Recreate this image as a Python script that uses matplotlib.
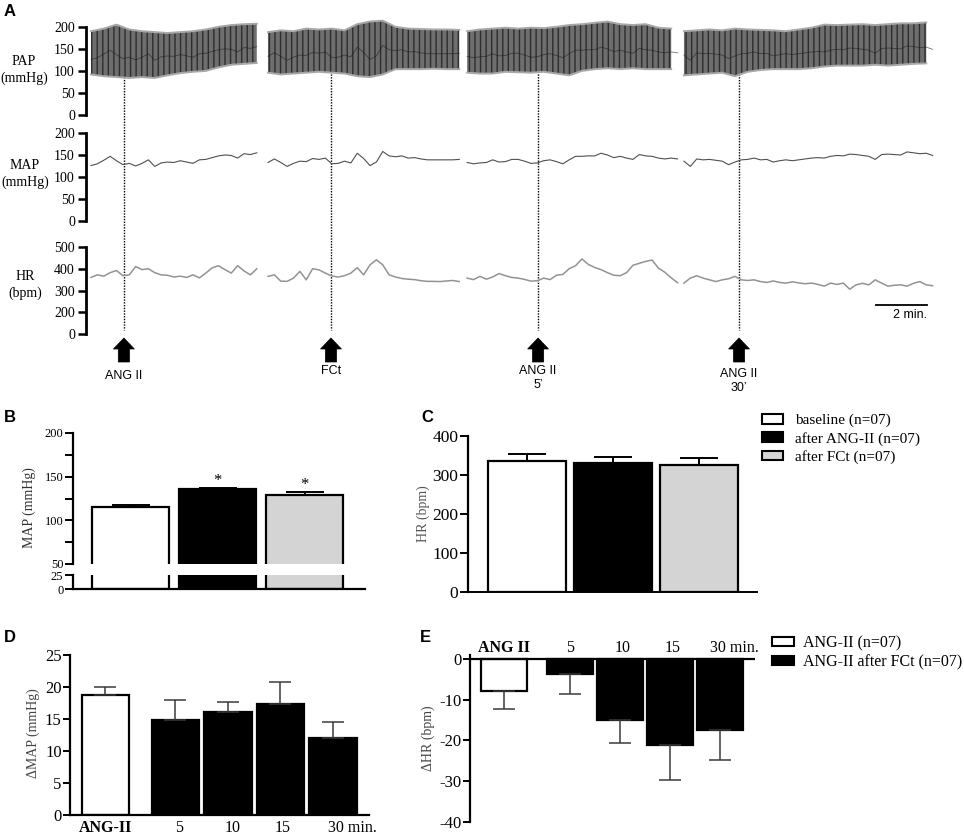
import numpy as np
import matplotlib
matplotlib.use("Agg")
import matplotlib.pyplot as plt
from matplotlib.patches import Polygon, Patch
from matplotlib import transforms

# ---------------- data ----------------
# Panel A: recordings. MAP/HR sampled every 0.25 min, PAP envelope every 0.5 min
seg_start_min = [0.0, 6.94, 14.75, 23.25]
map_dt = 0.25
pap_dt = 0.5

map_seg1 = [126, 130, 138, 147, 137, 128, 131, 125, 131, 139, 124, 132, 134, 133, 137, 134, 131,
            139, 140, 144, 148, 150, 149, 143, 153, 151, 155]
map_seg2 = [133, 141, 133, 124, 131, 136, 135, 142, 140, 143, 130, 131, 136, 132, 154, 142, 126,
            134, 158, 148, 146, 148, 143, 144, 141, 139, 139, 139, 139, 139, 140]
map_seg3 = [133, 130, 132, 133, 139, 134, 135, 140, 140, 136, 131, 132, 137, 139, 135, 130, 139,
            147, 147, 148, 148, 154, 150, 144, 147, 143, 140, 151, 148, 147, 143, 141, 143, 141]
map_seg4 = [136, 124, 141, 139, 140, 138, 136, 128, 134, 139, 140, 143, 139, 140, 134, 137, 139,
            137, 139, 141, 143, 144, 143, 147, 149, 148, 152, 151, 149, 147, 140, 151, 152, 151,
            150, 157, 155, 153, 154, 149]

hr_seg1 = [360, 372, 366, 382, 392, 368, 372, 410, 396, 400, 382, 372, 370, 362, 366, 360, 372,
           358, 380, 404, 414, 396, 380, 414, 390, 372, 400]
hr_seg2 = [365, 372, 343, 342, 357, 388, 349, 400, 395, 380, 367, 362, 368, 380, 405, 372, 418,
           441, 418, 372, 362, 355, 352, 350, 345, 342, 342, 341, 344, 346, 341]
hr_seg3 = [357, 350, 365, 352, 362, 378, 368, 360, 357, 351, 343, 345, 357, 350, 370, 374, 400,
           414, 445, 420, 406, 396, 382, 370, 368, 382, 416, 425, 434, 440, 403, 384, 358, 336]
hr_seg4 = [334, 357, 368, 357, 349, 341, 349, 354, 365, 349, 346, 349, 341, 337, 344, 337, 334,
           340, 335, 331, 334, 328, 320, 334, 328, 334, 306, 326, 333, 326, 349, 334, 320, 324,
           326, 320, 333, 341, 326, 322]

pap_hi_seg1 = [190, 196, 205, 194, 190, 188, 186, 188, 190, 194, 200, 204, 206, 207]
pap_lo_seg1 = [92, 88, 86, 84, 86, 84, 90, 95, 98, 100, 108, 114, 116, 118]
pap_hi_seg2 = [188, 192, 190, 196, 194, 196, 192, 206, 212, 214, 200, 196, 195, 194, 194, 193]
pap_lo_seg2 = [96, 92, 94, 96, 98, 96, 94, 88, 86, 92, 104, 104, 104, 105, 104, 104]
pap_hi_seg3 = [190, 194, 196, 198, 196, 198, 197, 200, 204, 206, 209, 212, 206, 204, 206, 198, 196]
pap_lo_seg3 = [96, 94, 94, 98, 97, 96, 98, 94, 90, 100, 104, 106, 104, 106, 104, 104, 104]
pap_hi_seg4 = [190, 192, 194, 192, 196, 194, 193, 192, 190, 194, 198, 205, 204, 205, 206, 204,
               206, 208, 208, 210]
pap_lo_seg4 = [90, 92, 94, 96, 88, 98, 102, 104, 104, 104, 106, 110, 112, 112, 112, 114, 112,
               114, 116, 117]

event_min = [1.29, 9.41, 17.53, 25.41]
event_labels = ["ANG II", "FCt", "ANG II\n5\u2019", "ANG II\n30\u2019"]
scale_len_min = 2
scale_end_min = 32.78

pap_ticks = [0, 50, 100, 150, 200]
map_ticks = [0, 50, 100, 150, 200]
hr_ticks = [100, 200, 300, 400, 500]
hr_ticklabels = ["0", "200", "300", "400", "500"]

# Panels B / C
groups_bc = ["baseline (n=07)", "after ANG-II (n=07)", "after FCt (n=07)"]
map_mean = [115.3, 135.9, 129.0]
map_sem = [2.6, 1.2, 3.4]
map_sig = [False, True, True]
hr_mean = [337, 330, 325]
hr_sem = [17, 16, 18]

# Panels D / E
d_labels = ["ANG-II", "5", "10", "15", "30 min."]
e_labels = ["ANG II", "5", "10", "15", "30 min."]
dmap_mean = [18.75, 14.8, 16.1, 17.4, 12.1]
dmap_sem = [1.25, 3.2, 1.5, 3.4, 2.4]
dhr_mean = [-7.8, -3.8, -15.0, -21.0, -17.4]
dhr_sem = [4.5, 4.8, 5.6, 8.7, 7.3]
groups_de = ["ANG-II (n=07)", "ANG-II after FCt (n=07)"]

# ---------------- style ----------------
SERIF = ["Liberation Serif", "DejaVu Serif"]
SANS = ["Liberation Sans", "DejaVu Sans"]
plt.rcParams["font.family"] = SERIF
plt.rcParams["axes.unicode_minus"] = False
plt.rcParams["hatch.linewidth"] = 1.0

bc_colors = ["white", "black", "#d4d4d4"]
de_colors = ["white"] + ["black"] * (len(dmap_mean) - 1)

W, H = 964, 836
fig = plt.figure(figsize=(W / 100, H / 100), dpi=100)


def rect(x0, y0, x1, y1):
    return [x0 / W, 1 - y1 / H, (x1 - x0) / W, (y1 - y0) / H]


def fpos(x, y):
    return (x / W, 1 - y / H)


def panel_letter(x, y, s):
    fig.text(x / W, 1 - y / H, s, ha="center", va="center", fontsize=12,
             fontweight="bold", family=SANS)


# ---------------- Panel A ----------------
XL = (-0.196, 33.29)
ov = fig.add_axes(rect(86, 0, 940, 400))
ov.set_xlim(XL)
ov.set_ylim(400, 0)
ov.axis("off")
label_top = [370, 365, 365, 368]
for t, lab, ly in zip(event_min, event_labels, label_top):
    ov.plot([t, t], [60, 330], color="black", lw=1.0, ls=(0, (1, 1)))
    hw, sw = 0.41, 0.22
    ov.add_patch(Polygon([(t, 338), (t + hw, 349), (t + sw, 349), (t + sw, 362),
                          (t - sw, 362), (t - sw, 349), (t - hw, 349)], closed=True,
                         fc="black", ec="black", lw=0.5))
    ov.text(t, ly, lab, ha="center", va="top", fontsize=9, family=SANS, linespacing=1.2)
ov.plot([scale_end_min - scale_len_min, scale_end_min], [305, 305], color="black", lw=1.3)
ov.text(scale_end_min, 309, f"{scale_len_min} min.", ha="right", va="top", fontsize=9,
        family=SANS)


def trace_ax(y0, y1, ylim, ticks, ticklabels):
    ax = fig.add_axes(rect(86, y0, 940, y1))
    ax.set_facecolor("none")
    ax.set_xlim(XL)
    ax.set_ylim(ylim)
    for s in ("top", "right", "bottom"):
        ax.spines[s].set_visible(False)
    ax.spines["left"].set_linewidth(2)
    ax.spines["left"].set_bounds(ticks[0], ticks[-1])
    ax.set_xticks([])
    ax.set_yticks(ticks)
    ax.set_yticklabels(ticklabels)
    ax.tick_params(axis="y", length=6, width=1.8, labelsize=10, pad=2)
    return ax


ax_pap = trace_ax(18, 115, (0, 220), pap_ticks, [str(v) for v in pap_ticks])
ax_map = trace_ax(133, 221, (0, 200), map_ticks, [str(v) for v in map_ticks])
ax_hr = trace_ax(247, 334, (100, 500), hr_ticks, hr_ticklabels)

map_segs = [map_seg1, map_seg2, map_seg3, map_seg4]
hr_segs = [hr_seg1, hr_seg2, hr_seg3, hr_seg4]
pap_hi = [pap_hi_seg1, pap_hi_seg2, pap_hi_seg3, pap_hi_seg4]
pap_lo = [pap_lo_seg1, pap_lo_seg2, pap_lo_seg3, pap_lo_seg4]

for start, mv, hv, hi, lo in zip(seg_start_min, map_segs, hr_segs, pap_hi, pap_lo):
    tp = start + np.arange(len(hi)) * pap_dt
    ax_pap.fill_between(tp, lo, hi, facecolor="#6e6e6e", edgecolor="#2e2e2e",
                        hatch="|||", linewidth=0)
    ax_pap.plot(tp, hi, color="#a8a8a8", lw=1.4)
    ax_pap.plot(tp, lo, color="#a8a8a8", lw=1.4)
    tm = start + np.arange(len(mv)) * map_dt
    ax_pap.plot(tm, mv, color="#1a1a1a", lw=0.6, alpha=0.6)
    ax_map.plot(tm, mv, color="#505050", lw=0.8)
    th = start + np.arange(len(hv)) * map_dt
    ax_hr.plot(th, hv, color="#939393", lw=1.1)

fig.text(24 / W, 1 - 70 / H, "PAP\n(mmHg)", ha="center", va="center", fontsize=10,
         linespacing=1.35)
fig.text(25 / W, 1 - 174 / H, "MAP\n(mmHg)", ha="center", va="center", fontsize=10,
         linespacing=1.35)
fig.text(25 / W, 1 - 285 / H, "HR\n(bpm)", ha="center", va="center", fontsize=10,
         linespacing=1.35)
panel_letter(10, 11, "A")

# ---------------- Panel B ----------------
xb = np.arange(len(map_mean))
axBt = fig.add_axes(rect(73, 433, 365, 564))
axBb = fig.add_axes(rect(73, 575, 365, 589))
for ax in (axBt, axBb):
    ax.bar(xb, map_mean, 0.885, color=bc_colors, edgecolor="black", linewidth=1.6, zorder=2)
    ax.set_xlim(-0.661, 2.695)
    for s in ("top", "right"):
        ax.spines[s].set_visible(False)
    ax.spines["left"].set_linewidth(1.6)
    ax.set_xticks([])
    ax.tick_params(axis="y", length=6, width=1.4, labelsize=9, pad=1)
axBt.set_ylim(50, 200)
axBt.spines["bottom"].set_visible(False)
btick = list(range(50, 201, 25))
axBt.set_yticks(btick)
axBt.set_yticklabels([str(v) if v % 50 == 0 else "" for v in btick])
axBt.errorbar(xb, map_mean, yerr=[np.zeros(len(xb)), map_sem], fmt="none", ecolor="black",
              elinewidth=1.4, capsize=13.5, capthick=1.4, zorder=3)
for x, m, s, sig in zip(xb, map_mean, map_sem, map_sig):
    if sig:
        axBt.annotate("*", (x, m + s), xytext=(0, -1), textcoords="offset points",
                      ha="center", va="bottom", fontsize=12)
axBb.set_ylim(0, 25)
axBb.set_yticks([0, 25])
axBb.spines["bottom"].set_linewidth(1.6)
fig.text(29 / W, 1 - 508 / H, "MAP (mmHg)", rotation=90, ha="center", va="center",
         fontsize=10, color="#333333")
panel_letter(10, 418, "B")

# ---------------- Panel C ----------------
axC = fig.add_axes(rect(468, 436, 757, 592))
axC.bar(xb, hr_mean, 0.904, color=bc_colors, edgecolor="black", linewidth=1.6, zorder=2)
axC.errorbar(xb, hr_mean, yerr=[np.zeros(len(xb)), hr_sem], fmt="none", ecolor="black",
             elinewidth=1.4, capsize=13.7, capthick=1.4, zorder=1)
axC.set_xlim(-0.684, 2.667)
axC.set_ylim(0, 400)
for s in ("top", "right"):
    axC.spines[s].set_visible(False)
axC.spines["left"].set_linewidth(1.6)
axC.spines["bottom"].set_linewidth(1.4)
axC.set_xticks([])
axC.set_yticks(range(0, 401, 100))
axC.tick_params(axis="y", length=6, width=1.4, labelsize=12.5, pad=1)
fig.text(423 / W, 1 - 514 / H, "HR (bpm)", rotation=90, ha="center", va="center",
         fontsize=10, color="#555555")
panel_letter(427, 418, "C")
fig.legend([Patch(facecolor=c, edgecolor="black", linewidth=1.5) for c in bc_colors],
           groups_bc, loc="upper left", bbox_to_anchor=fpos(762, 414), frameon=False,
           fontsize=11, handlelength=1.4, handleheight=0.6, handletextpad=0.75,
           labelspacing=0.28, borderpad=0, borderaxespad=0)

# ---------------- Panel D ----------------
xd = np.r_[0, np.arange(1, len(dmap_mean)) + 1 / 3]
axD = fig.add_axes(rect(70, 655, 369, 815))
axD.bar(xd, dmap_mean, 0.9, color=de_colors, edgecolor="black", linewidth=1.6, zorder=2)
axD.errorbar(xd, dmap_mean, yerr=[np.zeros(len(xd)), dmap_sem], fmt="none",
             ecolor="#3a3a3a", elinewidth=1.1, capsize=8, capthick=1.1, zorder=3)
axD.set_xlim(-0.676, 5.019)
axD.set_ylim(0, 25)
for s in ("top", "right"):
    axD.spines[s].set_visible(False)
axD.spines["left"].set_linewidth(1.6)
axD.spines["bottom"].set_linewidth(1.6)
axD.set_xticks([])
axD.set_yticks(range(0, 26, 5))
axD.tick_params(axis="y", length=5, width=1.4, labelsize=12, pad=1)
d_off = [0, 4, 5, 2, -5]
for i, (x, lab) in enumerate(zip(xd, d_labels)):
    last = i == len(d_labels) - 1
    tr = axD.get_xaxis_transform() + transforms.ScaledTranslation(
        d_off[i] / 100, -13 / 100, fig.dpi_scale_trans)
    axD.text(x, 0, lab, transform=tr, ha="left" if last else "center", va="center",
             fontsize=11.5, fontweight="bold" if i == 0 else "normal")
fig.text(33 / W, 1 - 733 / H, "\u0394MAP (mmHg)", rotation=90, ha="center", va="center",
         fontsize=10, color="#444444")
panel_letter(10, 638, "D")

# ---------------- Panel E ----------------
axE = fig.add_axes(rect(470, 655, 755, 822))
axE.bar(xd, dhr_mean, 0.92, color=de_colors, edgecolor="black", linewidth=1.6, zorder=2)
axE.errorbar(xd, dhr_mean, yerr=[dhr_sem, np.zeros(len(xd))], fmt="none",
             ecolor="#3a3a3a", elinewidth=1.1, capsize=8, capthick=1.1, zorder=3)
axE.set_xlim(-0.67, 5.03)
axE.set_ylim(-40, 0.98)
axE.axhline(0, color="black", lw=1.6, zorder=4)
for s in ("top", "right", "bottom"):
    axE.spines[s].set_visible(False)
axE.spines["left"].set_linewidth(1.6)
axE.set_xticks([])
axE.set_yticks(range(-40, 1, 10))
axE.tick_params(axis="y", length=5, width=1.4, labelsize=12, pad=1)
e_off = [0, 0, 2, 2, -10]
for i, (x, lab) in enumerate(zip(xd, e_labels)):
    last = i == len(e_labels) - 1
    tr = axE.transData + transforms.ScaledTranslation(e_off[i] / 100, 11 / 100,
                                                      fig.dpi_scale_trans)
    axE.text(x, 0, lab, transform=tr, ha="left" if last else "center", va="center",
             fontsize=11.5, fontweight="bold" if i == 0 else "normal")
fig.text(428 / W, 1 - 738 / H, "\u0394HR (bpm)", rotation=90, ha="center", va="center",
         fontsize=10, color="#444444")
panel_letter(425, 638, "E")
fig.legend([Patch(facecolor=c, edgecolor="black", linewidth=1.5) for c in ["white", "black"]],
           groups_de, loc="upper left", bbox_to_anchor=fpos(772, 635), frameon=False,
           fontsize=11.5, handlelength=1.36, handleheight=0.5, handletextpad=0.6,
           labelspacing=0.22, borderpad=0, borderaxespad=0)

fig.savefig("out.png", dpi=100)
